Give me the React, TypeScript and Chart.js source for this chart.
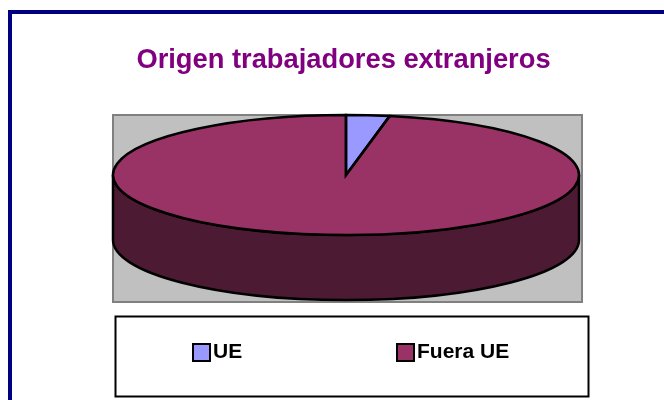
import React, { useEffect, useRef } from "react";
import { Chart, registerables } from "chart.js";

Chart.register(...registerables);

const titleText = "Origen trabajadores extranjeros";
const categories = ["UE", "Fuera UE"];
const shares = [3, 97];
const sliceColors = ["#9999FF", "#993366"];
const wallColors = ["#4D4D80", "#4D1A33"];

const FRAME = { left: 10, top: 12, width: 4, color: "#000080" };
const PLATE = { left: 113, top: 115, right: 582, bottom: 302, fill: "#C0C0C0", stroke: "#808080" };
const PIE = { cx: 346, cy: 175, rx: 233, ry: 60, depth: 65 };
const LEGEND = { left: 115.5, top: 316.5, right: 588.5, bottom: 396.5, swatchY: 344, swatch: 17 };
const LEGEND_X = [193, 397];
const OUTLINE = 2.5;

const pie3d = {
  id: "pie3d",
  beforeDraw(chart: any) {
    const { ctx, width, height } = chart;
    ctx.save();
    ctx.fillStyle = "#FFFFFF";
    ctx.fillRect(0, 0, width, height);
    ctx.strokeStyle = FRAME.color;
    ctx.lineWidth = FRAME.width;
    ctx.beginPath();
    ctx.moveTo(FRAME.left, height + 5);
    ctx.lineTo(FRAME.left, FRAME.top);
    ctx.lineTo(width + 5, FRAME.top);
    ctx.stroke();
    ctx.restore();
  },
  beforeDatasetsDraw(chart: any) {
    const { ctx } = chart;
    const arcs = chart.getDatasetMeta(0).data;
    ctx.save();
    ctx.fillStyle = PLATE.fill;
    ctx.strokeStyle = PLATE.stroke;
    ctx.lineWidth = 2;
    ctx.fillRect(PLATE.left, PLATE.top, PLATE.right - PLATE.left, PLATE.bottom - PLATE.top);
    ctx.strokeRect(PLATE.left, PLATE.top, PLATE.right - PLATE.left, PLATE.bottom - PLATE.top);

    // Side wall: every slice's front-facing part, taken from the library's own arc angles.
    arcs.forEach((arc: any, i: number) => {
      const { startAngle, endAngle } = arc.getProps(["startAngle", "endAngle"], true);
      const ranges = [
        [Math.max(startAngle, 0), Math.min(endAngle, Math.PI), 0],
        [Math.max(startAngle, 2 * Math.PI), Math.min(endAngle, 3 * Math.PI), 2 * Math.PI],
      ];
      ranges.forEach(([a, b, off]) => {
        if (b <= a) return;
        ctx.beginPath();
        ctx.ellipse(PIE.cx, PIE.cy, PIE.rx, PIE.ry, 0, a - off, b - off);
        ctx.ellipse(PIE.cx, PIE.cy + PIE.depth, PIE.rx, PIE.ry, 0, b - off, a - off, true);
        ctx.closePath();
        ctx.fillStyle = wallColors[i];
        ctx.fill();
        ctx.strokeStyle = "#000000";
        ctx.lineWidth = OUTLINE;
        ctx.stroke();
      });
    });
    ctx.restore();

    // Squash the round pie into the tilted top face.
    const first = arcs[0];
    const { x, y, outerRadius } = first.getProps(["x", "y", "outerRadius"], true);
    ctx.save();
    ctx.translate(PIE.cx, PIE.cy);
    ctx.scale(PIE.rx / outerRadius, PIE.ry / outerRadius);
    ctx.translate(-x, -y);
  },
  afterDatasetsDraw(chart: any) {
    const { ctx } = chart;
    ctx.restore();
    const arcs = chart.getDatasetMeta(0).data;
    ctx.save();
    ctx.strokeStyle = "#000000";
    ctx.lineWidth = OUTLINE;
    arcs.forEach((arc: any) => {
      const { startAngle, endAngle } = arc.getProps(["startAngle", "endAngle"], true);
      ctx.beginPath();
      ctx.moveTo(PIE.cx, PIE.cy);
      ctx.ellipse(PIE.cx, PIE.cy, PIE.rx, PIE.ry, 0, startAngle, endAngle);
      ctx.closePath();
      ctx.stroke();
    });
    ctx.restore();
  },
  afterDraw(chart: any) {
    const { ctx } = chart;
    ctx.save();
    ctx.strokeStyle = "#000000";
    ctx.lineWidth = 2;
    ctx.fillStyle = "#FFFFFF";
    ctx.fillRect(LEGEND.left, LEGEND.top, LEGEND.right - LEGEND.left, LEGEND.bottom - LEGEND.top);
    ctx.strokeRect(LEGEND.left, LEGEND.top, LEGEND.right - LEGEND.left, LEGEND.bottom - LEGEND.top);
    ctx.font = 'bold 21px "Liberation Sans", Arial, sans-serif';
    ctx.textBaseline = "middle";
    (chart.data.labels as string[]).forEach((label, i) => {
      const sx = LEGEND_X[i];
      ctx.fillStyle = sliceColors[i];
      ctx.fillRect(sx, LEGEND.swatchY, LEGEND.swatch, LEGEND.swatch);
      ctx.strokeRect(sx, LEGEND.swatchY, LEGEND.swatch, LEGEND.swatch);
      ctx.fillStyle = "#000000";
      ctx.fillText(label, sx + LEGEND.swatch + 3, LEGEND.swatchY + LEGEND.swatch / 2);
    });
    ctx.restore();
  },
};

export default function App() {
  const ref = useRef<HTMLCanvasElement>(null);
  useEffect(() => {
    const chart = new Chart(ref.current!, {
      type: "pie",
      data: {
        labels: categories,
        datasets: [
          {
            data: shares,
            backgroundColor: sliceColors,
            borderWidth: 0,
            hoverOffset: 0,
            clip: false,
          } as any,
        ],
      },
      options: {
        animation: false,
        responsive: false,
        events: [],
        layout: { padding: { left: 23, right: 0, top: 0, bottom: 97 } },
        plugins: {
          legend: { display: false },
          tooltip: { enabled: false },
          title: {
            display: true,
            text: titleText,
            color: "#800080",
            font: { family: '"Liberation Sans", Arial, sans-serif', size: 27.3, weight: "bold" },
            padding: { top: 44, bottom: 39 },
          },
        },
      },
      plugins: [pie3d],
    });
    return () => chart.destroy();
  }, []);
  return (
    <div style={{ position: "fixed", left: 0, top: 0, width: 664, height: 400 }}>
      <canvas ref={ref} width={664} height={400} style={{ display: "block" }} />
    </div>
  );
}
